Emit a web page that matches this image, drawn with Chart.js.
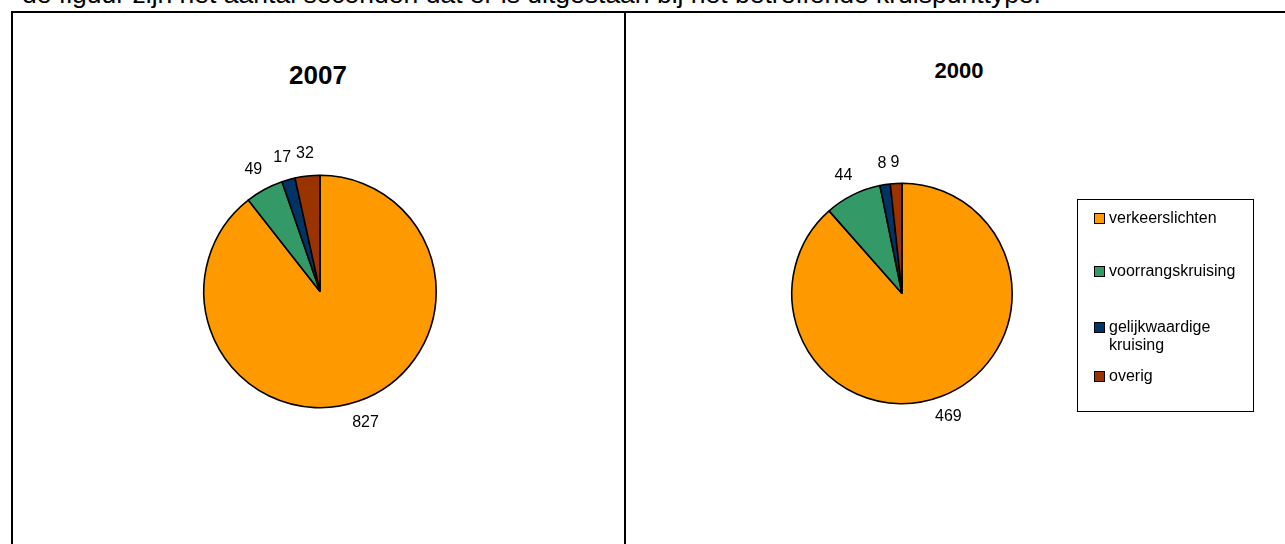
<!DOCTYPE html>
<html>
<head>
<meta charset="utf-8">
<script src="https://cdn.jsdelivr.net/npm/chart.js@4/dist/chart.umd.min.js"></script>
<style>
  html, body { margin: 0; padding: 0; background: #fff; }
  body { width: 1285px; height: 544px; position: relative; overflow: hidden;
         font-family: "Liberation Sans", Arial, sans-serif; }
  .line { position: absolute; background: #000; }
  .caption { position: absolute; left: 22px; top: -21px; font-size: 26.5px; white-space: nowrap; }
  .title { position: absolute; font-weight: bold; transform: translate(-50%, -50%); }
  .panel { position: absolute; }
  #legend { position: absolute; left: 1077px; top: 199px; width: 175px; height: 211px;
            border: 1px solid #000; font-size: 16px; }
  #legend .item { position: absolute; left: 16px; line-height: 18px; padding-left: 15px; }
  #legend .sw { position: absolute; left: 0; top: 4px; width: 9px; height: 9px; border: 1px solid #000; }
</style>
</head>
<body>
<div class="caption">de figuur zijn het aantal seconden dat er is uitgestaan bij het betreffende kruispunttype.</div>

<div class="line" style="left:11px; top:11px; width:1274px; height:2px"></div>
<div class="line" style="left:11px; top:11px; width:2px; height:533px"></div>
<div class="line" style="left:624px; top:11px; width:2px; height:533px"></div>

<div class="title" style="left:318px; top:75px; font-size:26px">2007</div>
<div class="title" style="left:959px; top:71px; font-size:22px">2000</div>

<div class="panel" style="left:13px; top:13px; width:611px; height:531px"><canvas id="pie2007"></canvas></div>
<div class="panel" style="left:626px; top:13px; width:659px; height:531px"><canvas id="pie2000"></canvas></div>

<div id="legend"></div>

<script>
const categories = ['verkeerslichten', 'voorrangskruising', 'gelijkwaardige kruising', 'overig'];
const values2007 = [827, 49, 17, 32];
const values2000 = [469, 44, 8, 9];
const colors = ['#FF9900', '#339966', '#003366', '#993300'];

// value labels just outside each slice, on the slice's middle angle
const outsideLabels = {
    id: 'outsideLabels',
    afterDatasetsDraw(chart, args, opts) {
        const ctx = chart.ctx;
        const meta = chart.getDatasetMeta(0);
        const data = chart.data.datasets[0].data;
        ctx.save();
        ctx.font = '16px "Liberation Sans", Arial, sans-serif';
        ctx.fillStyle = '#000';
        ctx.textAlign = 'center';
        ctx.textBaseline = 'middle';
        meta.data.forEach((arc, i) => {
            const mid = (arc.startAngle + arc.endAngle) / 2;
            const r = arc.outerRadius + opts.offset;
            ctx.fillText(String(data[i]), arc.x + Math.cos(mid) * r, arc.y + Math.sin(mid) * r);
        });
        ctx.restore();
    }
};

function makePie(id, values, padding, offset) {
    return new Chart(document.getElementById(id), {
        type: 'pie',
        data: {
            labels: categories,
            datasets: [{
                data: values,
                backgroundColor: colors,
                borderColor: '#000',
                borderWidth: 1.6
            }]
        },
        options: {
            responsive: true,
            maintainAspectRatio: false,
            animation: false,
            layout: { padding: padding },
            plugins: {
                legend: { display: false },
                tooltip: { enabled: false },
                outsideLabels: { offset: offset }
            }
        },
        plugins: [outsideLabels]
    });
}

makePie('pie2007', values2007, { left: 190, right: 187, top: 100, bottom: 74 }, 23);
makePie('pie2000', values2000, { left: 165, right: 272, top: 120, bottom: 90 }, 21);

// legend box with the category swatches
const legendRows = [
    { top: 9, text: 'verkeerslichten' },
    { top: 62, text: 'voorrangskruising' },
    { top: 118, text: 'gelijkwaardige<br>kruising' },
    { top: 167, text: 'overig' }
];
const legend = document.getElementById('legend');
legendRows.forEach((row, i) => {
    const item = document.createElement('div');
    item.className = 'item';
    item.style.top = row.top + 'px';
    item.innerHTML = '<span class="sw" style="background:' + colors[i] + '"></span>' + row.text;
    legend.appendChild(item);
});
</script>
</body>
</html>
